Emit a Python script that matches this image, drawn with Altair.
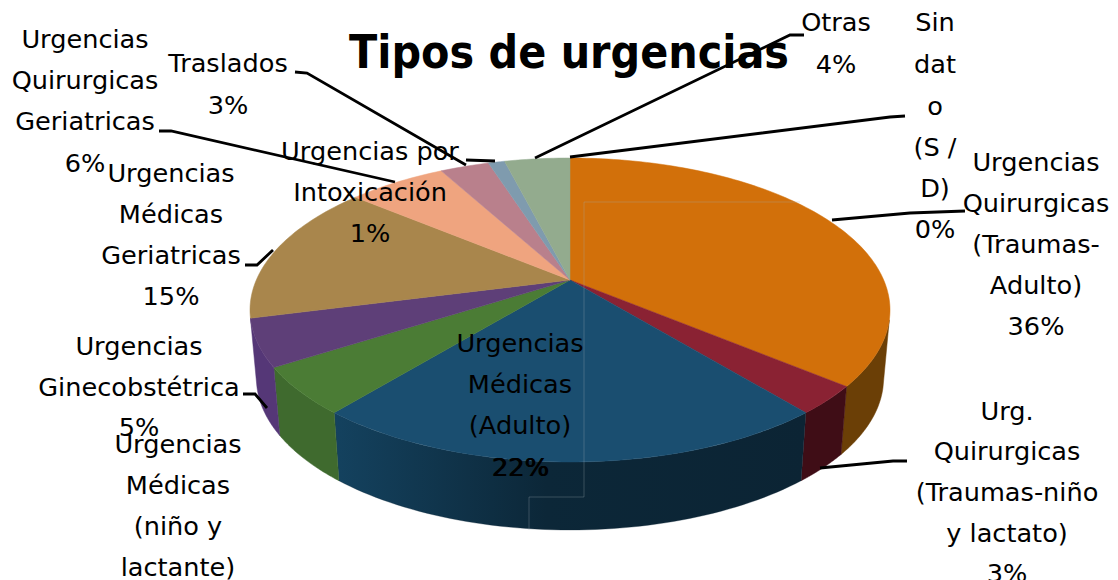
import math
import altair as alt
import pandas as pd

# ---- data ----
categories = ["Urgencias Quirurgicas (Traumas-Adulto)", "Urg. Quirurgicas (Traumas-niño y lactato)",
              "Urgencias Médicas (Adulto)", "Urgencias Médicas (niño y lactante)", "Urgencias Ginecobstétrica",
              "Urgencias Médicas Geriatricas", "Urgencias Quirurgicas Geriatricas", "Traslados",
              "Urgencias por Intoxicación", "Otras", "Sin dato (S/D)"]
values = [36, 3, 22, 5, 5, 15, 6, 3, 1, 4, 0]
top_colors = ["#D2700A", "#8A2233", "#1A4E70", "#4B7C35", "#5E3F78", "#A9864C", "#EFA47F", "#B9808C", "#7F9BAE", "#93AB8E", "#93AB8E"]
side_colors = ["#6B3F06", "#3F0D16", "#0D2838", "#3F6A2E", "#553777", "#8A6A38", "#C08060", "#96606A", "#60788A", "#708870", "#708870"]

title_text = "Tipos de urgencias"
label_blocks = [
    (836, ["Otras", "4%"], [31, 73]),
    (935, ["Sin", "dat", "o", "(S /", "D)", "0%"], [31, 73, 115, 156, 197, 238]),
    (1036, ["Urgencias", "Quirurgicas", "(Traumas-", "Adulto)", "36%"], [171, 212, 253, 294, 335]),
    (1007, ["Urg.", "Quirurgicas", "(Traumas-niño", "y lactato)", "3%"], [420, 460, 501, 542, 582]),
    (85, ["Urgencias", "Quirurgicas", "Geriatricas", "6%"], [48, 89, 130, 172]),
    (228, ["Traslados", "3%"], [72, 114]),
    (370, ["Urgencias por", "Intoxicación", "1%"], [160, 201, 242]),
    (171, ["Urgencias", "Médicas", "Geriatricas", "15%"], [182, 223, 264, 305]),
    (139, ["Urgencias", "Ginecobstétrica", "5%"], [355, 396, 436]),
    (178, ["Urgencias", "Médicas", "(niño y", "lactante)"], [453, 494, 535, 576]),
    (520, ["Urgencias", "Médicas", "(Adulto)", "22%"], [352, 393, 434, 476]),
]
leaders = [
    [(804, 35), (790, 35), (535, 158)],
    [(905, 116), (890, 117), (570, 157)],
    [(965, 211), (910, 213), (832, 220)],
    [(907, 461), (893, 461), (820, 468)],
    [(159, 131), (171, 131), (395, 182)],
    [(295, 72), (307, 73), (466, 165)],
    [(466, 160), (495, 161)],
    [(245, 265), (257, 265), (273, 250)],
    [(243, 394), (255, 394), (267, 408)],
]
faint_box = [[(800, 202), (584, 202), (584, 497), (529, 497), (529, 530)]]

# ---- projection of the tilted pie ----
CX, APEX, K, C, A = 570.0, 280.0, 313.7, 0.1974, -90.8
DEPTH, SHRINK = 68.0, 0.98


def rim(theta):
    u, v = math.sin(theta), math.cos(theta)
    d = 1 + C * v
    return CX + K * u / d, (APEX + A * v) / d


def low(theta):
    x, y = rim(theta)
    return CX + (x - CX) * SHRINK, y + DEPTH


X = alt.X("x:Q", axis=None, scale=alt.Scale(domain=[8, 1110], range=[0, 1102]))
Y = alt.Y("y:Q", axis=None, scale=alt.Scale(domain=[8, 580], range=[0, 572]))


def poly(points, **mark):
    df = pd.DataFrame({"x": [p[0] for p in points], "y": [p[1] for p in points], "o": range(len(points))})
    return alt.Chart(df).mark_line(interpolate="linear", **mark).encode(x=X, y=Y, order="o:Q")


edges = [0.0]
for v in values:
    edges.append(edges[-1] + v / sum(values) * 2 * math.pi)

layers = []
# side walls (front part only)
for i, v in enumerate(values):
    a, b = edges[i], edges[i + 1]
    a2, b2 = max(a, math.radians(105)), min(b, math.radians(255.6))
    if v == 0 or b2 <= a2:
        continue
    ts = [a2 + (b2 - a2) * k / 60 for k in range(61)]
    pts = [rim(t) for t in ts] + [low(t) for t in reversed(ts)]
    pts.append(pts[0])
    if i == 2:
        fill = alt.LinearGradient(gradient="linear", x1=0, x2=1, y1=0, y2=0,
                                  stops=[alt.GradientStop(color="#14425F", offset=0),
                                         alt.GradientStop(color="#0C2738", offset=0.45),
                                         alt.GradientStop(color="#0C2434", offset=1)])
        layers.append(poly(pts, fill=fill, stroke="#0C2738", strokeWidth=0.3))
    else:
        layers.append(poly(pts, fill=side_colors[i], stroke=side_colors[i], strokeWidth=0.5))
# top faces
for i, v in enumerate(values):
    if v == 0:
        continue
    a, b = edges[i], edges[i + 1]
    n = max(4, int(v * 3))
    pts = [(CX, APEX)] + [rim(a + (b - a) * k / n) for k in range(n + 1)] + [(CX, APEX)]
    layers.append(poly(pts, fill=top_colors[i], stroke=top_colors[i], strokeWidth=0.5))

for seg in faint_box:
    layers.append(poly(seg, stroke="#9fb0b5", strokeWidth=1, opacity=0.3))
for seg in leaders:
    layers.append(poly(seg, stroke="#000000", strokeWidth=2.8))

rows = []
for cx, lines, bases in label_blocks:
    for t, b in zip(lines, bases):
        rows.append({"x": cx, "y": b, "t": t})
layers.append(alt.Chart(pd.DataFrame(rows)).mark_text(
    font="DejaVu Sans", fontSize=25.6, align="center", baseline="alphabetic", color="#000000"
).encode(x=X, y=Y, text="t:N"))
layers.append(alt.Chart(pd.DataFrame([{"x": 520, "y": 476, "t": "22%"}])).mark_text(
    font="DejaVu Sans", fontSize=25.6, align="center", baseline="alphabetic", color="#000000", dx=1
).encode(x=X, y=Y, text="t:N"))
layers.append(alt.Chart(pd.DataFrame([{"x": 569, "y": 68, "t": title_text}])).mark_text(
    font="DejaVu Sans Condensed", fontSize=46, fontWeight="bold", align="center", baseline="alphabetic", color="#000000"
).encode(x=X, y=Y, text="t:N"))

chart = alt.layer(*layers).properties(
    width=1102, height=572, padding=0, background="#ffffff",
    autosize=alt.AutoSizeParams(type="none")
).configure_view(stroke=None)

chart.save("out.html", embed_options={"renderer": "svg", "actions": False})
